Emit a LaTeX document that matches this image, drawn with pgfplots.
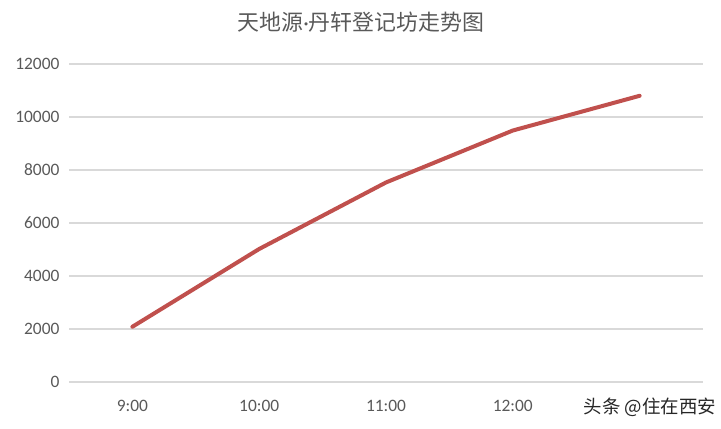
\documentclass[border=0pt]{standalone}
\usepackage{pgfplots}
\pgfplotsset{compat=1.18}
\usepackage{fontspec}
\setmainfont{Carlito}
\newfontfamily\cjk{Noto Sans CJK SC}
\definecolor{linered}{HTML}{C0504D}
\definecolor{gridgray}{HTML}{D9D9D9}
\definecolor{textgray}{HTML}{595959}
\begin{document}
\begin{tikzpicture}[x=1bp,y=1bp]
\useasboundingbox (0,0) rectangle (721,428);
\begin{axis}[
  at={(69bp,46bp)}, anchor=south west,
  scale only axis, width=634bp, height=318bp,
  xmin=-0.5, xmax=4.5, ymin=0, ymax=12000,
  xtick={0,1,2,3,4},
  xticklabels={9:00,10:00,11:00,12:00,{}},
  ytick={0,2000,4000,6000,8000,10000,12000},
  axis line style={draw=none},
  major tick length=0pt,
  ymajorgrids, grid style={gridgray, line width=1.5bp},
  tick label style={textgray, font=\fontsize{17.5}{20}\selectfont},
  /pgf/number format/assume math mode=true,
  scaled y ticks=false,
  yticklabel style={/pgf/number format/1000 sep={}, xshift=-6bp},
  xticklabel style={yshift=-15bp},
  clip=false,
]
\addplot[linered, line width=4bp, line cap=round, line join=round] coordinates {
  (0,2085) (1,5020) (2,7530) (3,9490) (4,10800)
};
\end{axis}
\node[textgray, font=\cjk\fontsize{22}{26}\selectfont, inner sep=0pt] at (361,406) {天地源{\fontspec{Carlito}·}丹轩登记坊走势图};
\node[text=black!85, font=\cjk\fontsize{18.5}{22}\selectfont, inner sep=1pt] at (650,21) {头条 @住在西安};
\end{tikzpicture}
\end{document}
